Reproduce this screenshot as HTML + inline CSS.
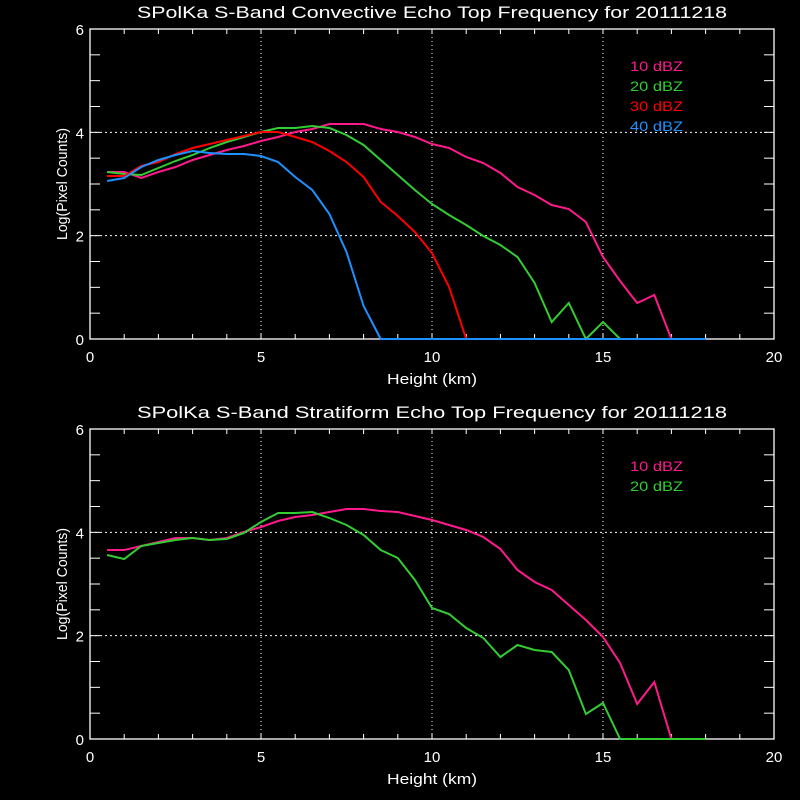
<!DOCTYPE html>
<html><head><style>html,body{margin:0;background:#000;}svg{display:block}</style></head>
<body>
<svg id="s" width="800" height="800" xmlns="http://www.w3.org/2000/svg" font-family="Liberation Sans, sans-serif" fill="#fff">
<rect width="800" height="800" fill="#000"/>
</svg>
<script>
const S=document.getElementById('s');const NS='http://www.w3.org/2000/svg';
function el(t,a,txt){const e=document.createElementNS(NS,t);for(const k in a)e.setAttribute(k,a[k]);if(txt!==undefined)e.textContent=txt;S.appendChild(e);return e;}
const X0=90,KX=34.2;
function px(k){return X0+KX*k;}
function panel(top,title,series,legend){
  const bot=top+310,R=774;
  const uy=310/6;
  // grid
  [5,10,15].forEach(k=>el('line',{x1:px(k),x2:px(k),y1:top,y2:bot,stroke:'#fff','stroke-width':1,'stroke-dasharray':'1,3'}));
  [2,4].forEach(v=>el('line',{x1:X0,x2:R,y1:bot-v*uy,y2:bot-v*uy,stroke:'#fff','stroke-width':1,'stroke-dasharray':'2,3'}));
  el('rect',{x:X0,y:top,width:R-X0,height:310,fill:'none',stroke:'#fff','stroke-width':1.3});
  for(let k=1;k<20;k++){el('line',{x1:px(k),x2:px(k),y1:bot,y2:bot-5,stroke:'#fff'});el('line',{x1:px(k),x2:px(k),y1:top,y2:top+5,stroke:'#fff'});}
  for(let i=1;i<12;i++){const y=bot-i*uy/2;el('line',{x1:X0,x2:X0+10,y1:y,y2:y,stroke:'#fff'});el('line',{x1:R,x2:R-10,y1:y,y2:y,stroke:'#fff'});}
  [0,2,4,6].forEach(v=>el('text',{x:84,y:bot-v*uy+6,'font-size':15,'text-anchor':'end'},v));
  [0,5,10,15,20].forEach(k=>el('text',{x:px(k),y:bot+23,'font-size':15,'text-anchor':'middle'},k));
  el('text',{x:432,y:bot+45,'font-size':15,'text-anchor':'middle',textLength:90,lengthAdjust:'spacingAndGlyphs'},'Height (km)');
  el('text',{x:432,y:top-11,'font-size':17,'text-anchor':'middle',textLength:590,lengthAdjust:'spacingAndGlyphs'},title);
  const yl=el('text',{x:0,y:0,'font-size':15,'text-anchor':'middle',transform:`translate(67,${top+155}) rotate(-90)`,textLength:112,lengthAdjust:'spacingAndGlyphs'},'Log(Pixel Counts)');
  series.forEach(s=>{
    const pts=s.y.map((y,i)=>[px(0.5+0.5*i),y+top-29]);
    pts.push([px(18),bot]);
    el('polyline',{points:pts.map(p=>p.join(',')).join(' '),fill:'none',stroke:s.c,'stroke-width':2});
  });
  legend.forEach((l,i)=>el('text',{x:630,y:top+42+20*i,'font-size':14,fill:l.c,textLength:53,lengthAdjust:'spacingAndGlyphs'},l.t));
}
const P='#ff1a8c',G='#33cc33',Rd='#ff0000',B='#1e90ff';
panel(29,'SPolKa S-Band Convective Echo Top Frequency for 20111218',[
 {c:P,y:[172,172,178,172,167,160,155,150,146,141,137,132,129,124,124,124,129,132,137,144,148,157,163,173,187,195,205,209,222,257,281,303,295,339]},
 {c:G,y:[172,174,175,168,161,155,148,142,137,132,128,128,126,128,135,145,160,175,190,204,215,225,236,245,257,283,322,303,339,322,339]},
 {c:Rd,y:[176,176,166,162,154,148,144,140,136,132,132,137,142,151,162,177,202,216,232,253,287,339]},
 {c:B,y:[181,178,167,160,155,151,153,154,154,156,162,177,190,214,252,306,339]}
],[{t:'10 dBZ',c:P},{t:'20 dBZ',c:G},{t:'30 dBZ',c:Rd},{t:'40 dBZ',c:B}]);
panel(429,'SPolKa S-Band Stratiform Echo Top Frequency for 20111218',[
 {c:P,y:[150,150,146,142,138,138,140,138,132,127,121,117,115,112,109,109,111,112,116,120,125,130,137,149,170,182,190,205,220,237,263,304,282,339]},
 {c:G,y:[155,159,146,143,140,138,140,139,133,122,113,113,112,118,125,135,150,158,180,208,214,228,238,257,245,250,252,270,314,303,339]}
],[{t:'10 dBZ',c:P},{t:'20 dBZ',c:G}]);
</script>
</body></html>
